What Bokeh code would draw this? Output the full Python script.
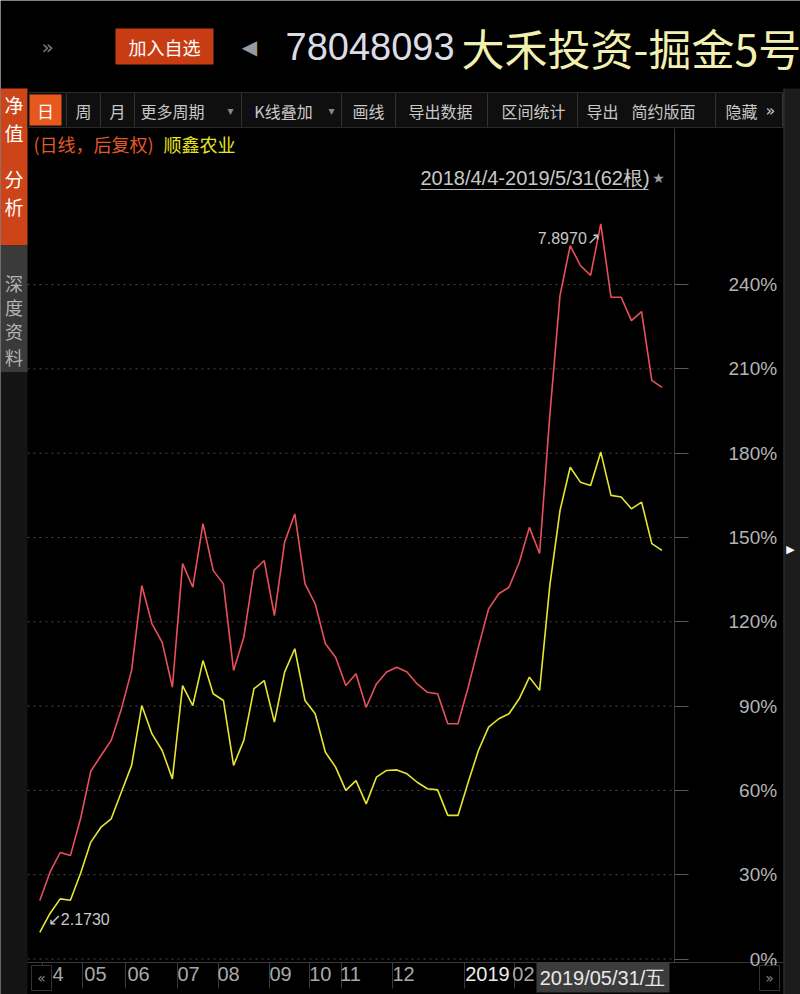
from bokeh.plotting import figure
from bokeh.models import Range1d, FixedTicker, LinearAxis, ColumnDataSource
from bokeh.core.properties import value
from bokeh.embed import file_html
from bokeh.resources import INLINE

# ---------------- data ----------------
week_index = list(range(62))
fund_pct = [20.8, 30.9, 37.9, 36.8, 50.0, 66.8, 72.4, 77.8, 89.0, 102.7,
            132.9, 119.3, 112.7, 96.7, 140.7, 132.3, 154.9, 138.3, 133.5, 102.7,
            114.5, 138.3, 141.8, 122.2, 148.3, 158.4, 133.5, 126.4, 112.2, 107.4,
            97.3, 101.5, 89.6, 97.9, 102.1, 103.8, 102.1, 97.9, 94.9, 94.4,
            83.7, 83.7, 96.7, 111.0, 124.6, 130.0, 132.3, 141.1, 153.6, 144.3,
            193.4, 236.1, 253.9, 246.8, 243.3, 261.6, 235.5, 235.5, 227.2, 230.4,
            205.9, 203.4]
stock_pct = [9.5, 16.2, 21.4, 20.9, 30.5, 41.6, 46.9, 49.9, 59.4, 68.9,
             90.2, 80.1, 74.2, 64.1, 97.3, 90.2, 106.2, 94.4, 92.0, 68.9,
             77.8, 96.2, 99.1, 84.3, 102.1, 110.4, 92.0, 87.3, 73.6, 68.3,
             60.0, 63.5, 55.2, 64.7, 67.1, 67.3, 65.9, 62.9, 60.6, 60.2,
             51.1, 51.1, 62.9, 74.2, 82.5, 85.5, 87.3, 92.6, 100.3, 95.6,
             132.9, 159.6, 175.0, 169.7, 168.5, 180.4, 165.0, 164.4, 160.2, 162.6,
             147.8, 145.4]
month_boundary_pos = [0.27, 4.18, 8.40, 13.50, 17.52, 22.52, 26.44, 29.58, 34.58, 41.64, 46.54]
month_label_pos = [1.24, 5.46, 9.68, 14.58, 18.5, 23.6, 27.5, 30.46, 35.66, 47.42]
month_labels = ["04", "05", "06", "07", "08", "09", "10", "11", "12", "02"]
year_label_pos = [43.89]
year_labels = ["2019"]
pct_ticks = [0, 30, 60, 90, 120, 150, 180, 210, 240]
nav_max_label = "7.8970"
nav_min_label = "2.1730"
range_text = "2018/4/4-2019/5/31(62根)"
cursor_date = "2019/05/31/五"
code_text = "78048093"
name_text = "大禾投资-掘金5号"

CJK = "Noto Sans CJK SC"
LAT = "Liberation Sans"
SYM = "DejaVu Sans"

# ---------------- page geometry (pixels of the 800x994 page) ----------------
W, H = 800, 994
X0, DX = 39.3, 10.2          # pixel of week 0, pixels per week
Y0, DY = 958.5, 84.3 / 30    # pixel of 0 %, pixels per percent
FL, FR, FT, FB = 27, 674, 128, 962   # chart area


def xi(px):
    return (px - X0) / DX


def yp(py):
    return (Y0 - py) / DY


p = figure(width=W, height=H, x_range=Range1d(xi(0), xi(W)), y_range=Range1d(yp(H), yp(0)),
           output_backend="svg", toolbar_location=None, x_axis_location=None,
           y_axis_location=None, min_border=0)
p.grid.visible = False
p.outline_line_color = None
p.background_fill_color = "#000000"
p.border_fill_color = "#000000"
p.extra_x_ranges = {"px": Range1d(0, W)}
p.extra_y_ranges = {"px": Range1d(H, 0)}

PX = dict(x_range_name="px", y_range_name="px")


def T(x, y, s, size, color, font=CJK, align="left", baseline="middle", level="glyph"):
    p.text(x=[x], y=[y], text=[s], text_font=value(font), text_font_size=f"{size}px",
           text_color=color, text_align=align, text_baseline=baseline, level=level, **PX)


def Q(l, r, t, b, color, line=None, level="glyph"):
    p.quad(left=[l], right=[r], top=[t], bottom=[b], fill_color=color, line_color=line,
           level=level, **PX)


# ---------------- header ----------------
T(47, 46, "»", 20, "#7a7a7a", font=SYM, align="center")
Q(115, 213, 28, 64, "#c83c14")
T(164, 46, "加入自选", 18, "#ffffff", align="center")
T(249, 46, "◀", 20, "#9a9a9a", font=SYM, align="center")
T(285, 46, code_text, 38, "#dcdce6", font=LAT)
T(461, 46, name_text, 43, "#f2f0b0")

# ---------------- left sidebar ----------------
Q(0, 27, 88, 245, "#cc4418")
Q(0, 27, 245, 372, "#3a3a3a")
Q(0, 27, 372, H, "#141414")
for ch, yy in zip("净值分析", [104, 132, 178, 206]):
    T(13.5, yy, ch, 19, "#ffffff", align="center")
for ch, yy in zip("深度资料", [282, 306, 330, 356]):
    T(13.5, yy, ch, 18, "#b4b4b4", align="center")

# ---------------- right strip ----------------
Q(783, W, 88, H, "#1c1c1c")
p.segment(x0=[783.5], y0=[88], x1=[783.5], y1=[H], line_color="#333333", **PX)
T(790, 549, "▶", 11, "#ffffff", font=SYM, align="center")

# ---------------- toolbar ----------------
Q(27, 783, 92, 127, "#0f0f0f", line="#2a2a2a")
Q(29, 61, 94, 125, "#e8581e")
T(45, 110, "日", 17, "#ffffff", align="center")
seps = [66, 100, 134, 241, 341, 395, 487, 577, 715, 782]
p.segment(x0=seps, y0=[93] * len(seps), x1=seps, y1=[126] * len(seps), line_color="#333333", **PX)
for s, xx in [("周", 83), ("月", 117), ("更多周期", 172), ("K线叠加", 283), ("画线", 368),
              ("导出数据", 440), ("区间统计", 533), ("导出", 602), ("简约版面", 663), ("隐藏", 741)]:
    T(xx, 110, s, 16, "#c8c8c8", align="center")
T(230, 110, "▾", 12, "#8a8a8a", font=SYM, align="center")
T(331, 110, "▾", 12, "#8a8a8a", font=SYM, align="center")
T(770, 110, "»", 16, "#c8c8c8", font=SYM, align="center")

# ---------------- grid lines ----------------
p.segment(x0=[xi(FL)] * len(pct_ticks), x1=[xi(FR)] * len(pct_ticks), y0=pct_ticks, y1=pct_ticks,
          line_color="#4a4a4a", line_dash="2 4", line_width=1, level="underlay")

# ---------------- axes (fixed inside the page) ----------------
ya = LinearAxis(fixed_location=xi(FR), ticker=FixedTicker(ticks=pct_ticks), bounds=(yp(FB), yp(FT)))
ya.major_label_overrides = {t: "\u2007" * (4 - len(f"{t}%")) + f"{t}%" for t in pct_ticks}
ya.minor_tick_line_color = None
ya.major_tick_out = 14
ya.major_tick_in = 0
ya.major_tick_line_color = "#5a5a5a"
ya.axis_line_color = "#3a3a3a"
ya.major_label_text_color = "#b4b4b4"
ya.major_label_text_font = LAT
ya.major_label_text_font_size = "19px"
ya.major_label_standoff = 40
p.add_layout(ya, "right")


def bottom_axis(ticks, labels, color, tick_out=0, line=None):
    a = LinearAxis(fixed_location=yp(FB), ticker=FixedTicker(ticks=ticks), bounds=(xi(FL), xi(783)))
    if labels is not None:
        a.major_label_overrides = dict(zip(ticks, labels))
        a.major_label_text_color = color
    else:
        a.major_label_text_color = None
    a.major_tick_out = tick_out
    a.major_tick_in = 0
    a.major_tick_line_color = "#3a3a3a" if tick_out else None
    a.minor_tick_line_color = None
    a.axis_line_color = line
    a.major_label_standoff = 4
    a.major_label_text_font = LAT
    a.major_label_text_font_size = "20px"
    p.add_layout(a, "below")


bottom_axis(month_boundary_pos, None, None, tick_out=26)
bottom_axis(month_label_pos, month_labels, "#a8a8a8", line="#3a3a3a")
bottom_axis(year_label_pos, year_labels, "#ececec")

# ---------------- series ----------------
src = ColumnDataSource(dict(i=week_index, fund=fund_pct, stock=stock_pct))
p.line("i", "fund", source=src, line_color="#e8505a", line_width=1.6)
p.line("i", "stock", source=src, line_color="#e6e632", line_width=1.6)

imax = max(week_index, key=lambda k: fund_pct[k])
p.text(x=[imax], y=[fund_pct[imax]], text=[nav_max_label + "↗"], text_font=value(LAT),
       text_font_size="16px", text_color="#c8c8c8", text_align="right", text_baseline="middle",
       x_offset=-1, y_offset=15)
p.text(x=[0], y=[stock_pct[0]], text=["↙" + nav_min_label], text_font=value(LAT),
       text_font_size="16px", text_color="#c8c8c8", text_align="left", text_baseline="middle",
       x_offset=8, y_offset=-13)

# ---------------- texts inside chart ----------------
T(33, 143, "(日线，后复权)", 18, "#e05a28")
T(163, 143, "顺鑫农业", 18, "#e6e61e")
T(420, 177, range_text, 20, "#c8c8c8", font=LAT)
p.segment(x0=[420], y0=[189], x1=[648], y1=[189], line_color="#bbbbbb", line_width=1, **PX)
T(658, 177, "★", 14, "#9a9a9a", font=SYM, align="center")

# ---------------- bottom bar widgets ----------------
Q(536, 669, 962, 992, "#3c3c3c", level="overlay")
T(602, 977, cursor_date, 20, "#e8e8e8", font=LAT, align="center", level="overlay")
Q(31, 51, 965, 990, "#000000", line="#333333", level="overlay")
T(41, 977, "«", 14, "#8a8a8a", font=SYM, align="center", level="overlay")
Q(759, 779, 965, 990, "#000000", line="#333333", level="overlay")
T(769, 977, "»", 14, "#8a8a8a", font=SYM, align="center", level="overlay")

open("out.html", "w").write(file_html(p, INLINE))
